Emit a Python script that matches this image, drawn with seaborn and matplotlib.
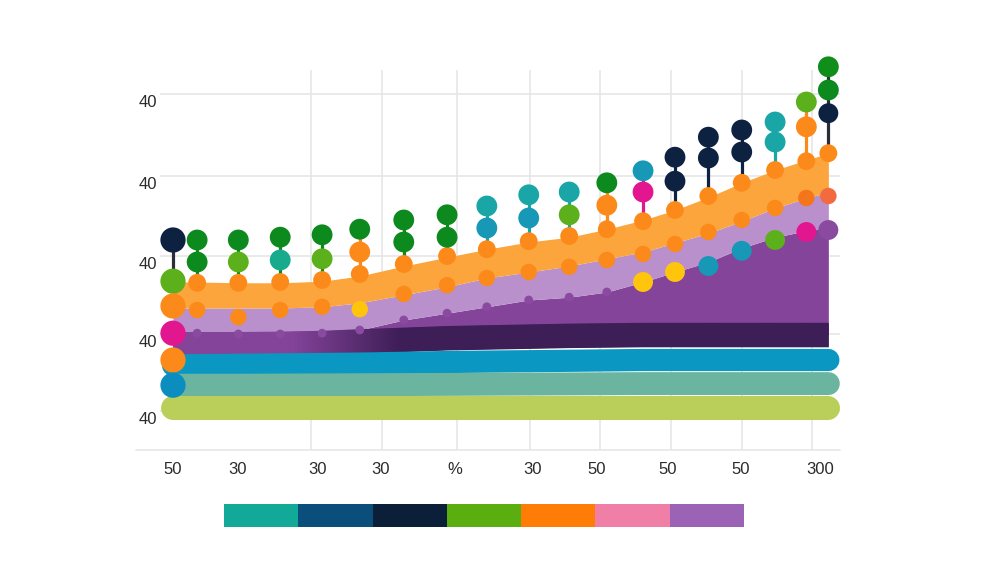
import numpy as np
import pandas as pd
import matplotlib
matplotlib.use("Agg")
import matplotlib.pyplot as plt
from matplotlib.colors import ListedColormap, to_rgb
from matplotlib.transforms import ScaledTranslation
import seaborn as sns

# ---------------- data ----------------
col_x = [0, 0.34, 0.92, 1.51, 2.10, 2.63, 3.25, 3.86, 4.42, 5.01, 5.58, 6.11,
         6.62, 7.07, 7.54, 8.01, 8.48, 8.92, 9.23]

lime_y = [5.2] * 19
teal_y = [8.1, 8.1, 8.1, 8.12, 8.14, 8.16, 8.18, 8.2, 8.22, 8.24, 8.26, 8.28,
          8.3, 8.3, 8.3, 8.3, 8.3, 8.3, 8.3]
blue_y = [10.6, 10.6, 10.65, 10.7, 10.75, 10.8, 10.9, 11.0, 11.05, 11.1, 11.15,
          11.2, 11.25, 11.25, 11.25, 11.25, 11.25, 11.25, 11.25]
dark_y = [13.25, 13.25, 13.25, 13.3, 13.4, 13.6, 13.8, 14.0, 14.1, 14.2, 14.3,
          14.35, 14.4, 14.4, 14.4, 14.4, 14.4, 14.4, 14.4]
purple_top = [14.6, 14.6, 14.5, 14.5, 14.6, 15.0, 16.25, 17.1, 17.9, 18.75, 19.1,
              19.75, 21.0, 22.25, 23.5, 25.25, 26.6, 27.4, 27.75]
lilac_top = [17.75, 17.75, 17.75, 17.75, 17.9, 18.4, 19.4, 20.4, 21.5, 22.25,
             23.0, 23.9, 24.75, 25.9, 27.1, 28.6, 30.25, 31.5, 32.25]
orange_top = [21.0, 21.0, 20.9, 20.9, 21.1, 21.75, 23.0, 24.1, 25.1, 26.0, 26.6,
              27.6, 28.75, 30.0, 31.6, 33.4, 35.0, 36.25, 37.1]

# left marker column (x = 0)
left_y = [26.25, 21.1, 18.0, 14.6, 11.25, 8.1]
left_c = ["navy", "ltgreen", "orange", "magenta", "orange", "blue"]

# columns 1..18
hi_y = [26.25, 26.25, 26.6, 26.9, 27.6, 28.75, 29.4, 30.5, 31.9, 32.25, 33.4,
        34.9, 36.6, 39.1, 40.0, 41.0, 43.5, 47.9]
hi_c = ["dkgreen", "dkgreen", "dkgreen", "dkgreen", "dkgreen", "dkgreen",
        "dkgreen", "teal", "teal", "teal", "dkgreen", "tealblue", "navy", "navy",
        "navy", "teal", "ltgreen", "green"]
mid_y = [23.5, 23.5, 23.75, 23.9, 24.75, 26.0, 26.6, 27.75, 29.0, 29.4, 30.6,
         32.25, 33.6, 36.5, 37.25, 38.5, 40.4, 45.0]
mid_c = ["dkgreen", "ltgreen", "teal2", "ltgreen", "orange", "dkgreen",
         "dkgreen", "tealblue", "tealblue", "ltgreen", "orange", "magenta",
         "navy", "navy", "navy", "teal", "orange", "dkgreen"]
up_y = [20.9, 20.9, 21.0, 21.25, 22.0, 23.25, 24.25, 25.1, 26.1, 26.75, 27.6,
        28.6, 30.0, 31.75, 33.4, 35.0, 36.1, 37.1]
lo_y = [17.5, 16.6, 17.5, 17.9, 17.6, 19.5, 20.6, 21.5, 22.25, 22.9, 23.75,
        24.5, 25.75, 27.25, 28.75, 30.25, 31.5, 31.75]
lo_c = ["orange", "orange", "orange", "orange", "yellow", "orange", "orange",
        "orange", "orange", "orange", "orange", "orange", "orange", "orange",
        "orange", "orange", "dkorange", "redorange"]
stem_c = ["dkgreen", "dkgreen", "dkgreen", "dkgreen", "orange", "dkgreen",
          "dkgreen", "teal", "teal", "teal", "orange", "magenta", "navy", "navy",
          "navy", "teal", "orange", "stemgray"]

extra_col = [12, 13, 14, 15, 16, 17, 18, 18]
extra_y = [21.0, 22.25, 23.0, 24.9, 26.25, 27.25, 42.1, 27.5]
extra_c = ["yellow", "yellow", "tealblue", "tealblue", "ltgreen", "magenta",
           "navy", "purpledot"]

x_tick_pos = [0, 0.915, 2.04, 2.92, 3.97, 5.06, 5.97, 6.97, 7.99, 9.11]
x_tick_labels = ["50", "30", "30", "30", "%", "30", "50", "50", "50", "300"]
x_grid_pos = [0, 0.915, 1.94, 2.94, 4.0, 5.03, 6.01, 7.01, 8.01, 9.0]
y_tick_pos = [4.9, 14.5, 24.25, 34.25, 44.5]
y_tick_labels = ["40", "40", "40", "40", "40"]

legend_colors = ["#12a999", "#0a4f7b", "#0b2038", "#5aae0f", "#ff7d06",
                 "#f07fa7", "#9b63b5"]

palette = {
    "navy": "#0d2240", "ltgreen": "#5cb01c", "dkgreen": "#0d8a1d",
    "green": "#0f8f1a", "orange": "#fb8a1a", "magenta": "#e2168f",
    "blue": "#0b8dbf", "teal": "#1aa6a6", "teal2": "#17aa8c",
    "tealblue": "#1798b6", "yellow": "#ffc50d", "dkorange": "#f5761a",
    "redorange": "#f26a3d", "purpledot": "#8a4aa0", "stemgray": "#2b2d3a",
    "bump": "#8a4a9f",
}

# ---------------- figure ----------------
sns.set_theme(style="white")
plt.rcParams["font.family"] = ["Liberation Sans", "DejaVu Sans"]

fig = plt.figure(figsize=(10.06, 5.75), dpi=100)
W, H = 1006, 575
ax = fig.add_axes([160 / W, (H - 450) / H, (840 - 160) / W, (450 - 70) / H])

# grid
ax.set_xticks(x_grid_pos, minor=True)
ax.set_xticks(x_tick_pos)
ax.set_xticklabels(x_tick_labels)
ax.set_yticks(y_tick_pos)
ax.set_yticklabels(y_tick_labels)
ax.grid(True, which="minor", axis="x", color="#e6e6e6", lw=1.2)
ax.grid(True, which="major", axis="y", color="#e6e6e6", lw=1.2)
ax.grid(False, which="major", axis="x")
ax.set_axisbelow(True)
for s in ax.spines.values():
    s.set_visible(False)
ax.plot([-0.035, 1.0], [0, 0], transform=ax.transAxes, color="#e6e6e6",
        lw=1.2, clip_on=False, zorder=0)
ax.tick_params(axis="both", which="both", length=0, labelsize=12,
               labelcolor="#2b2b2b")
ax.tick_params(axis="x", pad=9)
ax.tick_params(axis="y", pad=2)
for lab in ax.get_yticklabels():
    lab.set_transform(lab.get_transform() + ScaledTranslation(0, -7 / 100, fig.dpi_scale_trans))

# areas
xs = np.array(col_x)
ax.fill_between(xs, dark_y, purple_top, color="#84449a", lw=0, zorder=1)
ax.fill_between(xs, purple_top, lilac_top, color="#b990cc", lw=0, zorder=1)
ax.fill_between(xs, lilac_top, orange_top, color="#fba53c", lw=0, zorder=1)

# dark band with purple -> dark gradient
dy = np.array(dark_y)
poly = ax.fill_between(xs, dy - 1.5, dy + 1.5, color="#3e1e57", lw=0, zorder=2)
gx = np.linspace(-0.2, 9.4, 400)
t = np.clip((gx - 1.65) / 1.55, 0, 1)[None, :, None]
c0 = np.array(to_rgb("#84449a"))
c1 = np.array(to_rgb("#3e1e57"))
img = (1 - t) * c0 + t * c1
im = ax.imshow(img, extent=[-0.2, 9.4, 10, 17], aspect="auto",
               interpolation="bilinear", zorder=2.1, origin="lower")
im.set_clip_path(poly.get_paths()[0], transform=ax.transData)

# thick bands
sns.lineplot(x=xs, y=blue_y, color="#0a97c1", lw=16, ax=ax,
             solid_capstyle="round", zorder=3)
sns.lineplot(x=xs, y=teal_y, color="#6ab4a0", lw=16.5, ax=ax,
             solid_capstyle="round", zorder=3.1)
sns.lineplot(x=xs, y=lime_y, color="#bacf5a", lw=17.3, ax=ax,
             solid_capstyle="round", zorder=3.2)

# stems
cx = xs[1:]
ax.vlines(cx, up_y, hi_y, colors=[palette[c] for c in stem_c], lw=2.3, zorder=4)
ax.vlines([0], [left_y[1]], [left_y[0]], colors=[palette["stemgray"]], lw=2.3,
          zorder=4)

# dots
rows = []
for y, c in zip(left_y, left_c):
    rows.append((0.0, y, c, "left"))
for i in range(18):
    x = cx[i]
    rows.append((x, hi_y[i], hi_c[i], "stem"))
    rows.append((x, mid_y[i], mid_c[i], "stem"))
    rows.append((x, up_y[i], "orange", "upper"))
    rows.append((x, lo_y[i], lo_c[i], "lower"))
for i in range(11):
    rows.append((cx[i], purple_top[i + 1], "bump", "bump"))
for k, y, c in zip(extra_col, extra_y, extra_c):
    rows.append((xs[k], y, c, "extra"))
df = pd.DataFrame(rows, columns=["x", "y", "c", "role"])
order = {"bump": 0, "lower": 1, "extra": 1, "upper": 2, "stem": 3, "left": 4}
df["o"] = df["role"].map(order)
df = df.sort_values("o", kind="stable")
sizes = {"left": 330, "stem": 225, "upper": 165, "lower": 140, "extra": 205,
         "bump": 40}
sns.scatterplot(data=df, x="x", y="y", hue="c", palette=palette, size="role",
                sizes=sizes, legend=False, linewidth=0, ax=ax, zorder=5,
                clip_on=False)
ax.set_xlabel("")
ax.set_ylabel("")
ax.set_xlim(-0.183, 9.394)
ax.set_ylim(0, 47.5)

# colour strip legend
ax2 = fig.add_axes([224 / W, (H - 527) / H, 520 / W, 23 / H])
sns.heatmap(np.arange(len(legend_colors))[None, :],
            cmap=ListedColormap(legend_colors), cbar=False,
            xticklabels=False, yticklabels=False, ax=ax2)

fig.savefig("out.png", dpi=100, facecolor="white")
